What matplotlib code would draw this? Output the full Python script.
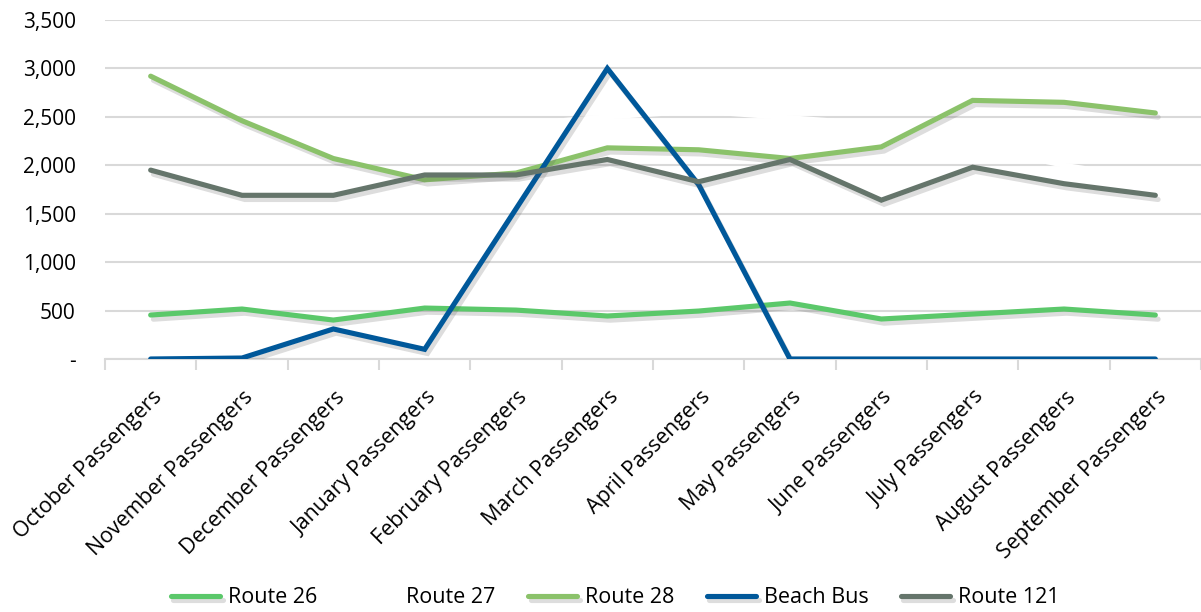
import matplotlib
matplotlib.use('Agg')
import matplotlib.pyplot as plt
import matplotlib.patheffects as pe
import matplotlib.transforms as mtransforms
from matplotlib.ticker import FixedLocator, FuncFormatter
import numpy as np

plt.rcParams['font.family'] = ['Open Sans', 'DejaVu Sans']

months = ['October', 'November', 'December', 'January', 'February', 'March',
          'April', 'May', 'June', 'July', 'August', 'September']
categories = [m + ' Passengers' for m in months]

route_26 = [454, 516, 402, 526, 505, 444, 495, 578, 413, 464, 516, 454]
route_27 = [2300, 2350, 2300, 2350, 2420, 2500, 2560, 2490, 2420, 2200, 2000, 1850]
route_28 = [2920, 2460, 2070, 1850, 1920, 2180, 2160, 2070, 2190, 2670, 2650, 2540]
beach_bus = [0, 10, 310, 100, 1550, 3000, 1800, 0, 0, 0, 0, 0]
route_121 = [1950, 1690, 1690, 1900, 1900, 2060, 1830, 2060, 1640, 1980, 1810, 1690]

series = [
    ('Route 26', route_26, '#5BC86A', True),
    ('Route 27', route_27, '#FFFFFF', False),
    ('Route 28', route_28, '#8BC26A', True),
    ('Beach Bus', beach_bus, '#00589A', True),
    ('Route 121', route_121, '#65756B', True),
]

fig = plt.figure(figsize=(12.01, 6.12), dpi=100)
ax = fig.add_axes([105 / 1201, 1 - 359 / 612, 1096 / 1201, 339 / 612])

x = np.arange(len(categories))
shadow = [pe.SimpleLineShadow(offset=(2, -3), shadow_color='#555555', alpha=0.2),
          pe.Normal()]
for name, vals, color, has_shadow in series:
    ax.plot(x, vals, color=color, lw=3.7, label=name, solid_capstyle='round',
            solid_joinstyle='miter', zorder=3,
            path_effects=shadow if has_shadow else None)

ax.set_xlim(-0.5, len(categories) - 0.5)
ax.set_ylim(0, 3500)
ax.set_yticks(np.arange(0, 3501, 500))
ax.yaxis.set_major_formatter(FuncFormatter(lambda v, p: '-' if v == 0 else f'{int(v):,}'))
ax.grid(axis='y', color='#D9D9D9', lw=1.5, zorder=0)
ax.set_axisbelow(True)

ax.set_xticks(x)
ax.set_xticklabels(categories, rotation=45, ha='right', va='top',
                   rotation_mode='anchor', fontsize=15.4)
ax.xaxis.set_minor_locator(FixedLocator(np.arange(-0.5, len(categories), 1.0)))
ax.tick_params(axis='x', which='major', length=0, pad=20)
ax.tick_params(axis='x', which='minor', length=8, color='#D9D9D9', width=1.5)
ax.tick_params(axis='y', length=0, labelsize=15, pad=21)

# push the slanted labels slightly right of the category centre
# (after tick_params, which would reset the label transforms)
shift = mtransforms.ScaledTranslation(1 / 100, 0, fig.dpi_scale_trans)
for lbl in ax.get_xticklabels():
    lbl.set_transform(lbl.get_transform() + shift)

for side in ['top', 'right', 'left']:
    ax.spines[side].set_visible(False)
ax.spines['bottom'].set_color('#D9D9D9')
ax.spines['bottom'].set_linewidth(1.5)

fig.legend(loc='center', bbox_to_anchor=(0.512, 0.023), ncol=5, frameon=False,
           fontsize=15.5, handlelength=2.3, handletextpad=0.35, columnspacing=1.5)

fig.savefig('out.png', dpi=100)
